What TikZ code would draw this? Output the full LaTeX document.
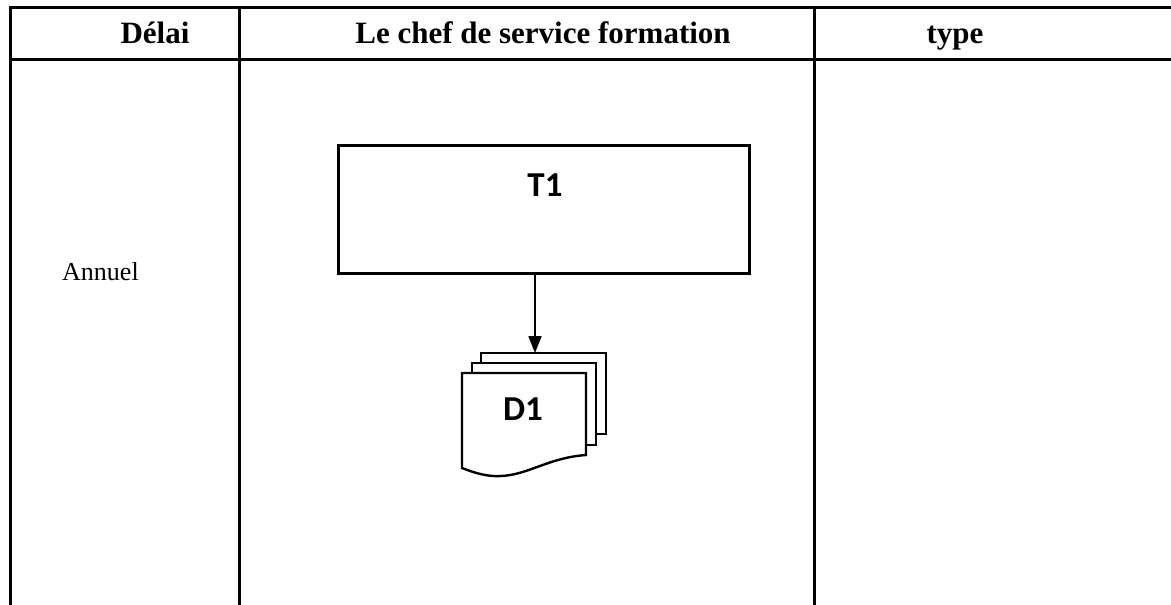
\documentclass[tikz,border=0pt]{standalone}
\usepackage{fontspec}
\setmainfont{Liberation Serif}
\newfontfamily\calibri{Carlito}
\usetikzlibrary{arrows.meta,calc}
\begin{document}
\begin{tikzpicture}[x=1pt,y=-1pt,
  rule/.style={line width=3.2pt},
  head/.style={font=\bfseries\fontsize{31}{37}\selectfont, inner sep=0pt, anchor=base},
  body/.style={font=\fontsize{26}{30}\selectfont, inner sep=0pt, anchor=base west},
  taskbox/.style={draw, line width=3pt, minimum width=411pt, minimum height=128pt, inner sep=0pt},
  flowlabel/.style={font=\calibri\bfseries\fontsize{35}{40}\selectfont, inner sep=0pt, anchor=base},
  page/.style={draw, fill=white, line width=2.4pt, line join=miter},
  flow/.style={line width=1.8pt, -{Triangle[length=17pt,width=13pt]}}]
\useasboundingbox (0,0) rectangle (1171,605);

% table grid
\draw[rule] (9,7.5) -- (1171,7.5);
\draw[rule] (9,59.5) -- (1171,59.5);
\draw[rule] (10.5,6) -- (10.5,605);
\draw[rule] (239.5,6) -- (239.5,605);
\draw[rule] (814.5,6) -- (814.5,605);

% header cells
\node[head] (hdelai) at (155,43) {Délai};
\node[head] (hchef) at (543,43) {Le chef de service formation};
\node[head] (htype) at (955,43) {type};

% period
\node[body] (annuel) at (62,280) {Annuel};

% task
\node[taskbox] (t1) at (543.5,209) {};
\node[flowlabel] (t1label) at (545,196) {T1};

% document stack
\draw[page] (481,353) rectangle (606,434);
\draw[page] (472,363) rectangle (596,445);
\draw[page] (462,373) -- (586,373) -- (586,455)
  .. controls (545,458) and (525,478) .. (493,476)
  .. controls (480,475) and (470,471) .. (462,468) -- cycle;
\node[flowlabel] (doc) at (523,420) {D1};
\coordinate (dtop) at (535,353);

% connector
\draw[flow] (t1.south -| dtop) -- (dtop);
\end{tikzpicture}
\end{document}
